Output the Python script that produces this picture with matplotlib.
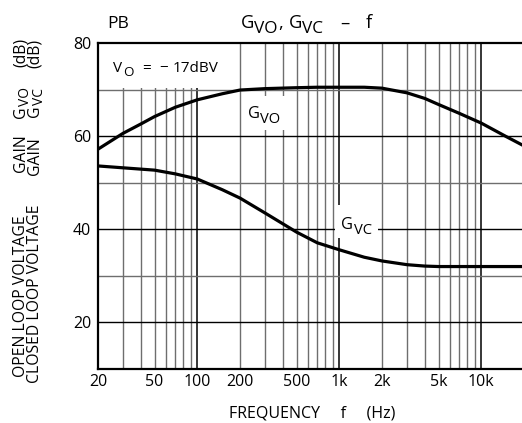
import numpy as np
import matplotlib
matplotlib.use("Agg")
import matplotlib.pyplot as plt
from matplotlib.patches import Rectangle
from matplotlib.transforms import IdentityTransform

plt.rcParams['font.family'] = ['Open Sans', 'DejaVu Sans']

# curve data
freq_vo = [20, 30, 40, 50, 70, 100, 150, 200, 300, 500, 700, 1000, 1500,
           2000, 3000, 4000, 5000, 7000, 10000, 15000, 20000]
gain_vo = [57.2, 60.6, 62.6, 64.2, 66.2, 67.8, 69.1, 69.9, 70.2, 70.4, 70.5, 70.5, 70.5,
           70.3, 69.3, 68.1, 66.8, 64.9, 62.8, 59.9, 57.9]

freq_vc = [20, 30, 50, 70, 100, 150, 200, 300, 500, 700, 1000, 1500,
           2000, 3000, 4000, 5000, 10000, 20000]
gain_vc = [53.6, 53.2, 52.7, 51.9, 50.8, 48.5, 46.7, 43.5, 39.4, 37.1, 35.6, 34.0,
           33.2, 32.4, 32.1, 32.0, 32.0, 32.0]

xticks = [20, 50, 100, 200, 500, 1000, 2000, 5000, 10000]
xticklabels = ['20', '50', '100', '200', '500', '1k', '2k', '5k', '10k']
yticks = [20, 40, 60, 80]

W, H = 522, 423
fig = plt.figure(figsize=(W / 100, H / 100), dpi=100)
ax = fig.add_axes([98 / W, (H - 369) / H, 426 / W, 326 / H])
ax.set_xscale('log')
ax.set_xlim(20, 20000)
ax.set_ylim(10, 80)
renderer = fig.canvas.get_renderer()
px = IdentityTransform()


def rich(x, y, parts, size, rot=0, sub_scale=0.88, drop=4.0, zorder=5):
    """draw text pieces one after another; x, y = start of baseline in pixels from top-left"""
    pos = 0.0
    for s, sub, gap in parts:
        pos += gap
        fs = size * sub_scale if sub else size
        d = drop if sub else 0.0
        if rot == 0:
            tx, ty = x + pos, H - y - d
        else:
            tx, ty = x + d, H - y + pos
        t = fig.text(tx, ty, s, transform=px, fontsize=fs, rotation=rot,
                     rotation_mode='anchor', ha='left', va='baseline', zorder=zorder)
        w, _, _ = renderer.get_text_width_height_descent(s, t.get_fontproperties(), ismath=False)
        pos += w + 0.5
    return pos


# grid
gray = '#6e6e6e'
for dec in [10, 100, 1000]:
    for m in range(2, 10):
        f = m * dec
        if 20 < f < 20000:
            ax.axvline(f, color=gray, lw=1.0, zorder=1)
for f in [100, 1000, 10000]:
    ax.axvline(f, color='black', lw=1.1, zorder=1)
for g in [30, 50, 70]:
    ax.axhline(g, color=gray, lw=1.0, zorder=1)
for g in [20, 40, 60]:
    ax.axhline(g, color='black', lw=1.0, zorder=1)

# white boxes behind the in-plot texts (pixel boxes)
for x0, y0, x1, y1 in [(99, 40, 238, 88.0), (245, 96, 287, 130), (335, 205, 378, 238)]:
    ax.add_patch(Rectangle((x0, H - y1), x1 - x0, y1 - y0, transform=px,
                           facecolor='white', edgecolor='none', zorder=2))

ax.plot(freq_vo, gain_vo, color='black', lw=2.3, zorder=4, solid_capstyle='butt')
ax.plot(freq_vc, gain_vc, color='black', lw=2.3, zorder=4, solid_capstyle='butt')

for s in ['left', 'bottom', 'top']:
    ax.spines[s].set_linewidth(1.6)
    ax.spines[s].set_zorder(6)
ax.spines['right'].set_visible(False)

ax.set_xticks(xticks)
ax.set_xticklabels(xticklabels)
ax.xaxis.set_minor_locator(plt.NullLocator())
ax.set_yticks(yticks)
ax.tick_params(length=0, labelsize=11.5)
ax.tick_params(axis='x', pad=3.5)
ax.tick_params(axis='y', pad=5)

# in-plot labels
rich(113, 71.7, [('V', False, 0), ('O', True, 0), ('=', False, 9),
                 ('−', False, 7), ('17dBV', False, 5)], 11, drop=3.8)
rich(248, 118.3, [('G', False, 0), ('VO', True, 0)], 11.8, sub_scale=0.9, drop=4.5)
rich(341.5, 229.3, [('G', False, 0), ('VC', True, 0)], 11.8, sub_scale=0.9, drop=4.5)

# titles
rich(107, 28.3, [('PB', False, 0)], 12.5)
rich(240.5, 28.3, [('G', False, 0), ('VO', True, 0), (',', False, 0),
                   ('G', False, 5), ('VC', True, 0), ('–', False, 16),
                   ('f', False, 16)], 13.2, sub_scale=0.94, drop=4.3)

fig.text(312 / W, (H - 417) / H, 'FREQUENCY     f     (Hz)', ha='center', va='baseline',
         fontsize=11.5)

# y labels (two rotated columns)
cols = [(25, [(377, 'OPEN LOOP VOLTAGE'), (172, 'GAIN'), (67, '(dB)')], (118, 'VO')),
        (39, [(383, 'CLOSED LOOP VOLTAGE'), (175, 'GAIN'), (68, '(dB)')], (117, 'VC'))]
for x, pieces, (ysym, sub) in cols:
    for y, s in pieces:
        rich(x, y, [(s, False, 0)], 11.3, rot=90)
    rich(x, ysym, [('G', False, 0), (sub, True, 0)], 11.3, rot=90, drop=3.8)

fig.savefig('out.png', dpi=100)
